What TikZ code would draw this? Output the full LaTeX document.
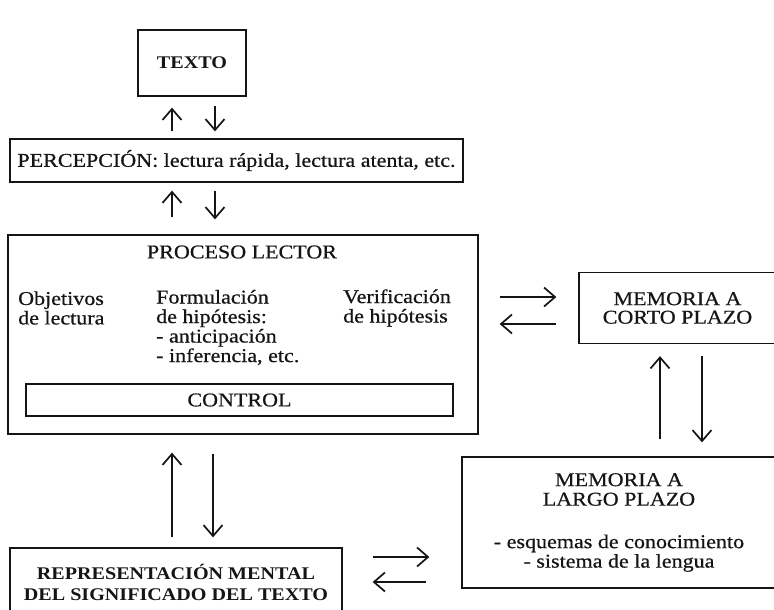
\documentclass[tikz,border=0pt]{standalone}
\usepackage{fontspec}
\setmainfont{Liberation Serif}[FakeStretch=1.13, UprightFeatures={FakeBold=0.6}]
\usetikzlibrary{arrows.meta}
\definecolor{ink}{HTML}{151515}
\newcommand{\fs}{\fontsize{19.5}{19.5}\selectfont}
\newcommand{\fsb}{\fontsize{17.8}{21}\selectfont\bfseries}
\tikzset{
  box/.style={draw=ink, line width=1.3pt, inner sep=0pt, text=ink},
  lbl/.style={inner sep=0pt, text=ink, font=\fs},
  arr/.style={draw=ink, line width=1.7pt, -{Straight Barb[length=11pt,width=19pt,line width=1.7pt]}}
}
\begin{document}
\begin{tikzpicture}[x=1pt,y=-1pt]
\useasboundingbox (0,0) rectangle (774,610);
\clip (0,0) rectangle (774,610);
\fill[white] (0,0) rectangle (774,610);

% boxes
\node (texto) [box, minimum width=108pt, minimum height=66pt, font=\fsb] at (192,63) {TEXTO};
\node (perc) [box, minimum width=453pt, minimum height=43pt, font=\fs] at (236.5,160.5) {PERCEPCIÓN: lectura rápida, lectura atenta, etc.};
\node (proc) [box, minimum width=470pt, minimum height=199pt] at (243,334.5) {};
\node (ctrl) [box, minimum width=427pt, minimum height=32pt, font=\fs] at (239.5,400) {CONTROL};
\node (mcp) [box, minimum width=197pt, minimum height=71pt, align=center, font=\fontsize{19.5}{18.5}\selectfont] at (677.5,308) {MEMORIA A\\CORTO PLAZO};
\node (mlp) [box, minimum width=314pt, minimum height=131pt, align=center, font=\fs] at (619,522.5) {MEMORIA A\\LARGO PLAZO\\[23pt]- esquemas de conocimiento\\- sistema de la lengua};
\node (repr) [box, minimum width=332pt, minimum height=69pt, align=center, font=\fsb] at (176,582.5) {REPRESENTACIÓN MENTAL\\DEL SIGNIFICADO DEL TEXTO};

% labels inside PROCESO LECTOR
\node (pl) [lbl] at (242,252) {PROCESO LECTOR};
\node (obj) [lbl, anchor=west, align=left] at (18,308) {Objetivos\\de lectura};
\node (form) [lbl, anchor=west, align=left] at (156,327.5) {Formulación\\de hipótesis:\\- anticipación\\- inferencia, etc.};
\node (verif) [lbl, anchor=west, align=left] at (343,308) {Verificación\\de hipótesis};

% connector columns
\coordinate (xa) at (172,0);
\coordinate (xb) at (215,0);
\coordinate (xc) at (213,0);
\coordinate (xd) at (660,0);
\coordinate (xe) at (702,0);
\coordinate (ya) at (0,297);
\coordinate (yb) at (0,324);
\coordinate (yc) at (0,557);
\coordinate (yd) at (0,582);

% TEXTO <-> PERCEPCION
\draw[arr, shorten <=7pt, shorten >=11pt] (xa |- perc.north) -- (xa |- texto.south);
\draw[arr, shorten <=9pt, shorten >=7pt] (xb |- texto.south) -- (xb |- perc.north);
% PERCEPCION <-> PROCESO
\draw[arr, shorten <=17pt, shorten >=8pt] (xa |- proc.north) -- (xa |- perc.south);
\draw[arr, shorten <=8pt, shorten >=15pt] (xb |- perc.south) -- (xb |- proc.north);
% PROCESO <-> MEMORIA CORTO
\draw[arr, shorten <=21pt, shorten >=22pt] (proc.east |- ya) -- (mcp.west |- ya);
\draw[arr, shorten <=22pt, shorten >=21pt] (mcp.west |- yb) -- (proc.east |- yb);
% MEMORIA CORTO <-> MEMORIA LARGO
\draw[arr, shorten <=17pt, shorten >=12pt] (xd |- mlp.north) -- (xd |- mcp.south);
\draw[arr, shorten <=12pt, shorten >=14pt] (xe |- mcp.south) -- (xe |- mlp.north);
% PROCESO <-> REPRESENTACION
\draw[arr, shorten <=10pt, shorten >=18pt] (xa |- repr.north) -- (xa |- proc.south);
\draw[arr, shorten <=19pt, shorten >=10pt] (xc |- proc.south) -- (xc |- repr.north);
% REPRESENTACION <-> MEMORIA LARGO
\draw[arr, shorten <=30pt, shorten >=32pt] (repr.east |- yc) -- (mlp.west |- yc);
\draw[arr, shorten <=35pt, shorten >=30pt] (mlp.west |- yd) -- (repr.east |- yd);
\end{tikzpicture}
\end{document}
